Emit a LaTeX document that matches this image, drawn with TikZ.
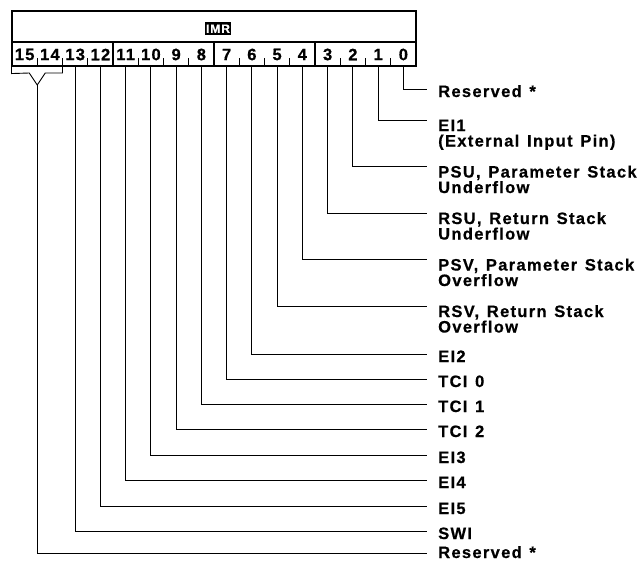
\documentclass[tikz,border=0pt]{standalone}
\usepackage{fontspec}
\setmainfont{Liberation Sans}
\newfontfamily\regfont{Liberation Sans}[LetterSpace=8, WordSpace=1.3,
  BoldFeatures={FakeBold=0.6}]
\usepackage{tikz}
\usetikzlibrary{positioning, calc}
\tikzset{
  regbox/.style={rectangle, draw, line width=1.1pt, inner sep=0pt,
                 minimum width=404pt},
  imrtag/.style={fill=black, text=white, inner xsep=1.5pt, inner ysep=2pt,
                 text height=8.6pt, text depth=0pt,
                 font=\regfont\bfseries\fontsize{12}{12}\selectfont},
  bitnum/.style={inner sep=0pt, font=\regfont\bfseries\fontsize{16.5}{16.5}\selectfont},
  bitlabel/.style={anchor=base west, align=left, inner xsep=11pt, inner ysep=0pt,
                   font=\regfont\bfseries\fontsize{16.5}{15.5}\selectfont},
  twoline/.style={bitlabel, yshift=-15.5pt},
  bitline/.style={line width=0.9pt},
}

\begin{document}
\begin{tikzpicture}[x=1pt, y=-1pt]
  \useasboundingbox (0,0) rectangle (644,562);
  \node[regbox, minimum height=31pt] (title) at (214,26.5) {};
  \node[imrtag] (imr) at (218,28.5) {IMR};
  \node[regbox, minimum height=24pt] (bits) at (214,54) {};
  \foreach \b in {0,...,15}
    \node[bitnum] (n\b) at ({12+(15-\b+0.5)*25.25},54.5) {\b};
  \foreach \k in {4,8,12}
    \draw[line width=1.1pt] ({12+\k*25.25},42) -- ({12+\k*25.25},66);
  \foreach \k in {1,2,3,5,6,7,9,10,11,13,14,15}
    \draw[bitline] ({12+\k*25.25},58) -- ({12+\k*25.25},66);

  \node[bitlabel] (l0) at (427,97) {Reserved *};
  \node[twoline] (l1) at (427,131) {EI1\\(External Input Pin)};
  \node[twoline] (l2) at (427,177.5) {PSU, Parameter Stack\\Underflow};
  \node[twoline] (l3) at (427,224) {RSU, Return Stack\\Underflow};
  \node[twoline] (l4) at (427,270.5) {PSV, Parameter Stack\\Overflow};
  \node[twoline] (l5) at (427,317) {RSV, Return Stack\\Overflow};
  \node[bitlabel] (l6) at (427,362) {EI2};
  \node[bitlabel] (l7) at (427,387) {TCI 0};
  \node[bitlabel] (l8) at (427,412) {TCI 1};
  \node[bitlabel] (l9) at (427,437) {TCI 2};
  \node[bitlabel] (l10) at (427,463) {EI3};
  \node[bitlabel] (l11) at (427,488) {EI4};
  \node[bitlabel] (l12) at (427,514) {EI5};
  \node[bitlabel] (l13) at (427,539) {SWI};
  \node[bitlabel] (l15) at (427,558) {Reserved *};

  \draw[bitline] (n0 |- bits.south) |- ([yshift=8pt]l0.base west);
  \foreach \b in {1,...,5}
    \draw[bitline] (n\b |- bits.south) |- ([yshift=26.5pt]l\b.base west);
  \foreach \b in {6,...,13}
    \draw[bitline] (n\b |- bits.south) |- ([yshift=8pt]l\b.base west);

  \coordinate (brace) at (37.25,85);
  \draw[bitline] (bits.south west) -- ++(0,7) -- ($(brace)+(-8,-12)$) -- (brace)
    -- ($(brace)+(8,-12)$) -- (62.5,73) -- (62.5,66);
  \draw[bitline] (brace) |- ([yshift=5pt]l15.base west);
\end{tikzpicture}
\end{document}
